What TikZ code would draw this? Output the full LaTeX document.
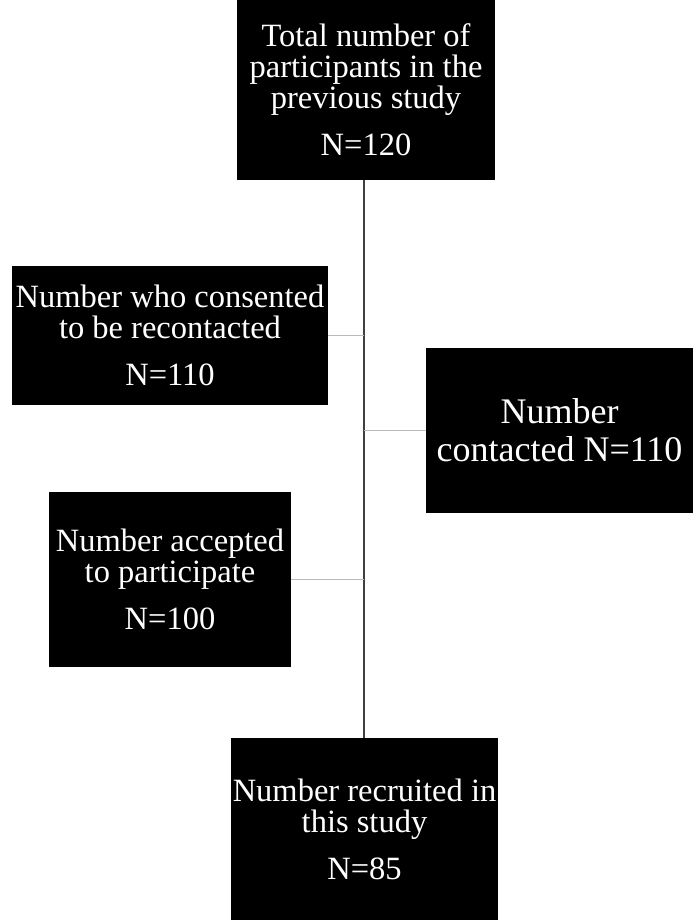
\documentclass[tikz,border=0pt]{standalone}
\usepackage{fontspec}
\setmainfont{Liberation Serif}
\tikzset{
    flowbox/.style={fill=black,text=white,align=center,inner sep=0pt,
        font=\fontsize{32.5}{31}\selectfont},
    trunk/.style={draw=black!75,line width=1.4pt},
    branch/.style={draw=black!27,line width=1pt}
}

\begin{document}
\begin{tikzpicture}[x=1pt,y=-1pt]
        \useasboundingbox (0,0) rectangle (693,920);
        \node[flowbox,minimum width=258,minimum height=180] (total) at (366,90)
            {Total number of\\participants in the\\previous study\\[16pt]N=120};
        \node[flowbox,minimum width=316,minimum height=139] (consent) at (170,335.5)
            {Number who consented\\to be recontacted\\[16pt]N=110};
        \node[flowbox,minimum width=267,minimum height=165,
            font=\fontsize{36}{38}\selectfont] (contact) at (559.5,430.5)
            {Number\\contacted N=110};
        \node[flowbox,minimum width=242,minimum height=175] (accept) at (170,579.5)
            {Number accepted\\to participate\\[16pt]N=100};
        \node[flowbox,minimum width=267,minimum height=182] (recruit) at (364.5,829)
            {Number recruited in\\this study\\[16pt]N=85};
        \path
            (total.south -| 364,0) edge[trunk] (recruit.north -| 364,0)
            (consent.east) edge[branch] (consent.east -| 364,0)
            (contact.west) edge[branch] (contact.west -| 364,0)
            (accept.east) edge[branch] (accept.east -| 364,0);
    \end{tikzpicture}
\end{document}
